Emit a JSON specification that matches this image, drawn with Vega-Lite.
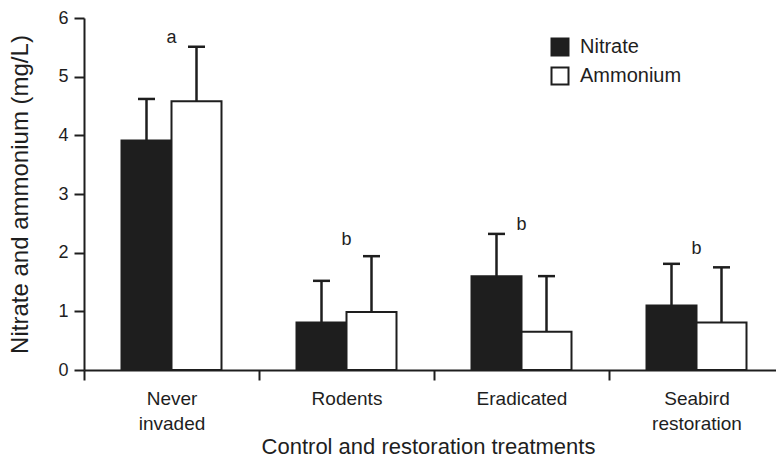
{
  "$schema": "https://vega.github.io/schema/vega-lite/v6.json",
  "width": 700,
  "height": 352,
  "autosize": {"type": "none"},
  "padding": {"left": 84, "top": 18, "right": 0, "bottom": 90},
  "background": "white",
  "config": {
    "font": "Liberation Sans",
    "view": {"stroke": null},
    "axis": {
      "domainColor": "#1e1e1e",
      "tickColor": "#1e1e1e",
      "labelColor": "#1e1e1e",
      "titleColor": "#1e1e1e",
      "domainWidth": 2,
      "tickWidth": 2,
      "grid": false,
      "labelFont": "Liberation Sans",
      "titleFont": "Liberation Sans",
      "titleFontWeight": "normal"
    },
    "legend": {"labelFont": "Liberation Sans", "labelColor": "#1e1e1e"}
  },
  "datasets": {
    "bars": [
      {"treatment": "Never invaded", "nutrient": "Nitrate", "mean": 3.91, "upper": 4.62},
      {"treatment": "Never invaded", "nutrient": "Ammonium", "mean": 4.58, "upper": 5.51},
      {"treatment": "Rodents", "nutrient": "Nitrate", "mean": 0.81, "upper": 1.52},
      {"treatment": "Rodents", "nutrient": "Ammonium", "mean": 0.99, "upper": 1.94},
      {"treatment": "Eradicated", "nutrient": "Nitrate", "mean": 1.6, "upper": 2.32},
      {"treatment": "Eradicated", "nutrient": "Ammonium", "mean": 0.65, "upper": 1.6},
      {"treatment": "Seabird restoration", "nutrient": "Nitrate", "mean": 1.1, "upper": 1.81},
      {"treatment": "Seabird restoration", "nutrient": "Ammonium", "mean": 0.81, "upper": 1.75}
    ],
    "letters": [
      {"treatment": "Never invaded", "letter": "a", "pos": 5.66},
      {"treatment": "Rodents", "letter": "b", "pos": 2.22},
      {"treatment": "Eradicated", "letter": "b", "pos": 2.48},
      {"treatment": "Seabird restoration", "letter": "b", "pos": 2.06}
    ]
  },
  "layer": [
    {
      "data": {"name": "bars"},
      "mark": {"type": "bar", "stroke": "#1e1e1e", "strokeWidth": 2},
      "encoding": {
        "x": {
          "field": "treatment",
          "type": "nominal",
          "sort": ["Never invaded", "Rodents", "Eradicated", "Seabird restoration"],
          "scale": {"paddingInner": 0, "paddingOuter": 0},
          "axis": {
            "title": "Control and restoration treatments",
            "titleFontSize": 22,
            "titlePadding": 3,
            "titleX": 344,
            "titleAlign": "center",
            "labelFontSize": 19,
            "labelLineHeight": 25,
            "labelAngle": 0,
            "labelPadding": 9,
            "tickSize": 10,
            "tickOffset": -87.5,
            "labelOffset": 87.5,
            "labelExpr": "datum.value == 'Never invaded' ? ['Never', 'invaded'] : datum.value == 'Seabird restoration' ? ['Seabird', 'restoration'] : datum.value"
          }
        },
        "xOffset": {
          "field": "nutrient",
          "type": "nominal",
          "sort": ["Nitrate", "Ammonium"],
          "scale": {"paddingInner": 0, "paddingOuter": 0.75}
        },
        "y": {
          "field": "mean",
          "type": "quantitative",
          "scale": {"domain": [0, 6], "nice": false},
          "axis": {
            "values": [0, 1, 2, 3, 4, 5, 6],
            "format": "d",
            "tickSize": 10,
            "labelFontSize": 18,
            "labelPadding": 6,
            "title": "Nitrate and ammonium (mg/L)",
            "titleFontSize": 24,
            "titlePadding": 25
          }
        },
        "fill": {
          "field": "nutrient",
          "type": "nominal",
          "sort": ["Nitrate", "Ammonium"],
          "scale": {"domain": ["Nitrate", "Ammonium"], "range": ["#1e1e1e", "#ffffff"]},
          "legend": {
            "title": null,
            "orient": "none",
            "legendX": 466,
            "legendY": 19,
            "symbolType": "square",
            "symbolSize": 289,
            "symbolStrokeColor": "#1e1e1e",
            "symbolStrokeWidth": 2,
            "labelFontSize": 20,
            "labelOffset": 10,
            "rowPadding": 3
          }
        }
      }
    },
    {
      "data": {"name": "bars"},
      "mark": {"type": "rule", "strokeWidth": 2.5, "color": "#1e1e1e"},
      "encoding": {
        "x": {"field": "treatment", "type": "nominal", "sort": ["Never invaded", "Rodents", "Eradicated", "Seabird restoration"]},
        "xOffset": {"field": "nutrient", "type": "nominal", "sort": ["Nitrate", "Ammonium"]},
        "y": {"field": "mean", "type": "quantitative"},
        "y2": {"field": "upper"}
      }
    },
    {
      "data": {"name": "bars"},
      "mark": {"type": "tick", "orient": "horizontal", "size": 17, "thickness": 2.5, "color": "#1e1e1e", "opacity": 1},
      "encoding": {
        "x": {"field": "treatment", "type": "nominal", "sort": ["Never invaded", "Rodents", "Eradicated", "Seabird restoration"]},
        "xOffset": {"field": "nutrient", "type": "nominal", "sort": ["Nitrate", "Ammonium"]},
        "y": {"field": "upper", "type": "quantitative"}
      }
    },
    {
      "data": {"name": "letters"},
      "mark": {"type": "text", "fontSize": 18, "color": "#1e1e1e", "baseline": "middle"},
      "encoding": {
        "x": {"field": "treatment", "type": "nominal", "sort": ["Never invaded", "Rodents", "Eradicated", "Seabird restoration"]},
        "y": {"field": "pos", "type": "quantitative"},
        "text": {"field": "letter"}
      }
    }
  ]
}
